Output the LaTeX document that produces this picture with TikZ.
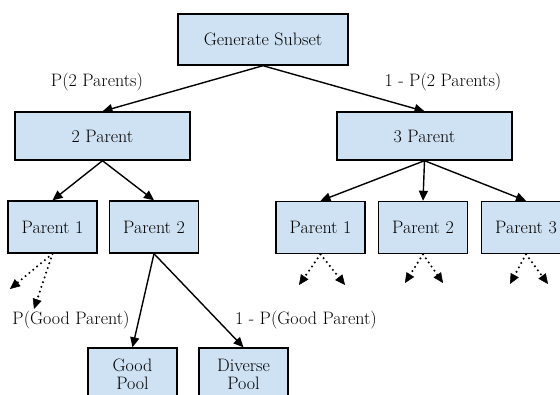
\documentclass[tikz,border=0pt]{standalone}
\usetikzlibrary{arrows.meta}
\definecolor{boxblue}{HTML}{CFE2F3}
\begin{document}
\begin{tikzpicture}[x=1pt,y=-1pt,
  box/.style={draw=black,fill=boxblue,line width=1.4pt,inner sep=0pt,
    font=\fontsize{18}{19}\selectfont,text=black,align=center},
  small/.style={box,minimum width=89pt,minimum height=52pt},
  lbl/.style={font=\fontsize{18}{19}\selectfont,text=black,inner sep=0pt},
  conn/.style={line width=1.4pt,-{Triangle[length=10pt,width=9pt]}},
  dconn/.style={line width=2.3pt,line cap=round,dash pattern=on 0pt off 5pt,
    -{Triangle[length=10pt,width=9pt,line width=0.5pt]}}]
\useasboundingbox (0,0) rectangle (560,394);
\node[box,minimum width=170pt,minimum height=51pt] (gs) at (263,39.5) {Generate Subset};
\node[box,minimum width=175pt,minimum height=48pt] (tp) at (102.5,136) {2 Parent};
\node[box,minimum width=175pt,minimum height=48pt] (hp) at (424.5,136) {3 Parent};
\node[small] (lp1) at (52.5,227) {Parent 1};
\node[small] (lp2) at (154,227) {Parent 2};
\node[small] (rp1) at (320.5,227.5) {Parent 1};
\node[small] (rp2) at (423,227.5) {Parent 2};
\node[small] (rp3) at (526,227.5) {Parent 3};
\node[small] (good) at (132.5,374) {Good\\[-1pt]Pool};
\node[small] (div) at (243.5,374) {Diverse\\[-1pt]Pool};
\node[lbl] (l1) at (97,82) {P(2 Parents)};
\node[lbl] (l2) at (443,82) {1 - P(2 Parents)};
\node[lbl] (l3) at (71,320) {P(Good Parent)};
\node[lbl] (l4) at (306,320) {1 - P(Good Parent)};
\draw[conn] (gs.south) -- (tp.north);
\draw[conn] (gs.south) -- (hp.north);
\draw[conn] (tp.south) -- (lp1.north);
\draw[conn] (tp.south) -- (lp2.north);
\draw[conn] (hp.south) -- (rp1.north);
\draw[conn] (hp.south) -- (rp2.north);
\draw[conn] (hp.south) -- (rp3.north);
\draw[conn] (lp2.south) -- (good.north);
\draw[conn] (lp2.south) -- (div.north);
\coordinate (a1) at (10,289);
\coordinate (a2) at (34,309);
\coordinate (b1) at (299,285);
\coordinate (b2) at (345,285);
\coordinate (c1) at (405,283);
\coordinate (c2) at (443,283);
\coordinate (d1) at (510,284);
\coordinate (d2) at (548,284);
\draw[dconn] (lp1.south) -- (a1);
\draw[dconn] (lp1.south) -- (a2);
\draw[dconn] (rp1.south) -- (b1);
\draw[dconn] (rp1.south) -- (b2);
\draw[dconn] (rp2.south) -- (c1);
\draw[dconn] (rp2.south) -- (c2);
\draw[dconn] (rp3.south) -- (d1);
\draw[dconn] (rp3.south) -- (d2);
\end{tikzpicture}
\end{document}
